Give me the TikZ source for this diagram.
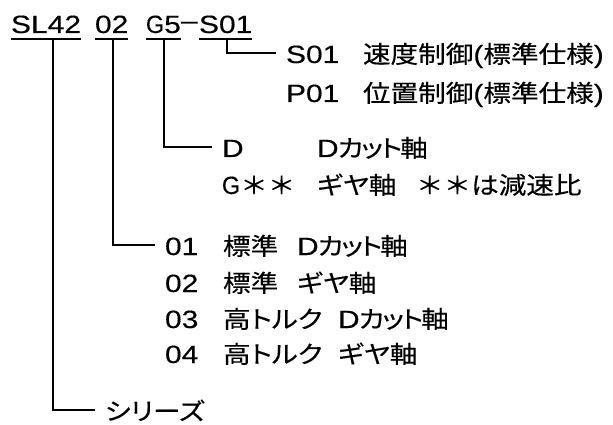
\documentclass[tikz,border=0pt]{standalone}
\usepackage{fontspec}
\newfontfamily\jpf[FakeStretch=1.15,FakeBold=0.3,RawFeature=+palt]{Noto Sans CJK JP}
\newfontfamily\jpw[FakeStretch=1.15,FakeBold=0.3]{Noto Sans CJK JP}
\newfontfamily\laf[FakeStretch=1.2,FakeBold=0.3]{Liberation Sans}
\newcommand\J[1]{{\jpf\fontsize{24pt}{28pt}\selectfont #1}}
\newcommand\W[1]{{\jpw\fontsize{24pt}{28pt}\selectfont #1}}
\newcommand\LT[1]{{\laf\fontsize{25pt}{28pt}\selectfont #1}}
\newcommand\narrowG{\scalebox{0.78}[1]{G}}
\newcommand\Dcut{\LT{D}\kern-1pt\J{カ\kern-2ptッ\kern-2ptト\kern-2pt軸}}
\tikzset{
  ln/.style={line width=1.6pt, line join=miter},
  row/.style={anchor=base west, inner sep=0pt, outer xsep=10pt, outer ysep=0pt, text height=22pt, text depth=2pt},
  head/.style={anchor=base west, inner sep=0pt, outer sep=0pt}
}
\begin{document}
\begin{tikzpicture}[x=1pt,y=-1pt]
\useasboundingbox (0,0) rectangle (613,425);
% header code
\node[head] (sl) at (11,33) {\LT{SL42}};
\node[head] (oz) at (95,33) {\LT{02}};
\node[head] (gf) at (146,33) {\LT{\narrowG 5}};
\node[head] (dh) at (181,33) {\raisebox{4pt}{\LT{–}}};
\node[head] (so) at (199,33) {\LT{S01}};
% underlines
\foreach \n in {sl,oz,gf,so}
  \draw[ln] ([yshift=-6pt]\n.base west) -- ([yshift=-6pt]\n.base east);
% rows
\node[row] (rs) at (276,63) {\makebox[77pt][l]{\LT{S01}}\J{速度制御}\LT{(}\J{標準仕様}\LT{)}};
\node[row] (rp) at (276,102) {\makebox[77pt][l]{\LT{P01}}\J{位置制御}\LT{(}\J{標準仕様}\LT{)}};
\node[row] (rd) at (212,157) {\makebox[95pt][l]{\LT{D}}\Dcut};
\node[row] (rg) at (212,194) {\makebox[95pt][l]{\LT{\narrowG}\W{＊＊}}\makebox[99pt][l]{\J{ギヤ軸}}\W{＊＊}\J{は減速比}};
\node[row] (r1) at (155,255) {\makebox[58pt][l]{\LT{01}}\makebox[74pt][l]{\J{標準}}\Dcut};
\node[row] (r2) at (155,292) {\makebox[58pt][l]{\LT{02}}\makebox[74pt][l]{\J{標準}}\J{ギヤ軸}};
\node[row] (r3) at (155,328) {\makebox[58pt][l]{\LT{03}}\makebox[115pt][l]{\J{高トルク}}\Dcut};
\node[row] (r4) at (155,363) {\makebox[58pt][l]{\LT{04}}\makebox[115pt][l]{\J{高トルク}}\J{ギヤ軸}};
\node[row] (ser) at (95,420) {\J{シリーズ}};
% connectors
\draw[ln] ([xshift=28pt,yshift=-6pt]so.base west) |- (rs.west);
\draw[ln] ([xshift=18pt,yshift=-6pt]gf.base west) |- (rd.west);
\draw[ln] ([xshift=18pt,yshift=-6pt]oz.base west) |- (r1.west);
\draw[ln] ([xshift=42pt,yshift=-6pt]sl.base west) |- (ser.west);
\end{tikzpicture}
\end{document}
